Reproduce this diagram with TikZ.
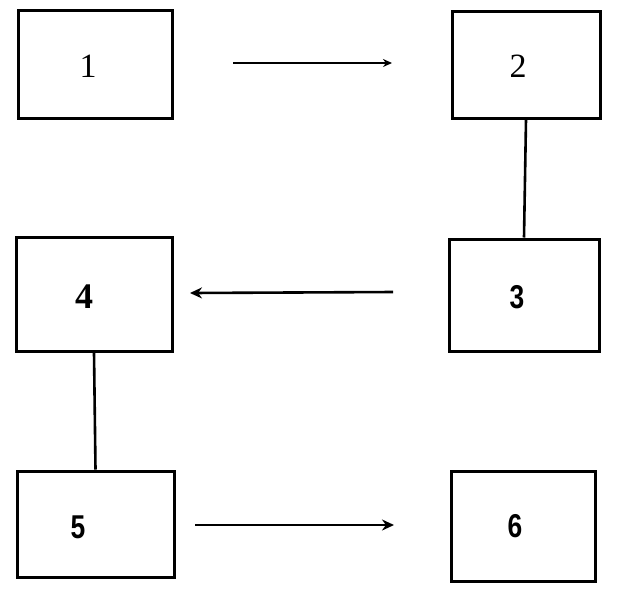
\documentclass[tikz,border=0pt]{standalone}
\usepackage{fontspec}
\setmainfont{Liberation Serif}
\newfontfamily\labsans{Liberation Sans}
\usetikzlibrary{arrows.meta}
\tikzset{
  blockbox/.style={draw=black, line width=3pt, fill=white, inner sep=0pt},
  serifnum/.style={font=\fontsize{34}{34}\selectfont, inner sep=0pt},
  boldnum/.style={font=\fontsize{36}{36}\selectfont\bfseries, inner sep=0pt},
  sansnum/.style={font=\fontsize{33}{33}\labsans\bfseries, inner sep=0pt, xscale=0.8},
  joinline/.style={draw=black, line width=2.6pt},
  flowarrow/.style={draw=black, line width=2.6pt, -{Stealth[length=12pt,width=11pt]}},
  thinarrow/.style={draw=black, line width=1.8pt, -{Stealth[length=9pt,width=8pt]}}
}
\begin{document}
\begin{tikzpicture}[x=1pt,y=-1pt]
\useasboundingbox[fill=white] (0,0) rectangle (623,590);
% boxes
\node[blockbox, minimum width=154pt, minimum height=108pt] (b1) at (95,64) {};
\node[blockbox, minimum width=148pt, minimum height=107pt] (b2) at (526,64.5) {};
\node[blockbox, minimum width=150pt, minimum height=112pt] (b3) at (524,295) {};
\node[blockbox, minimum width=156pt, minimum height=114pt] (b4) at (94,294) {};
\node[blockbox, minimum width=157pt, minimum height=106pt] (b5) at (95.5,524) {};
\node[blockbox, minimum width=144pt, minimum height=110pt] (b6) at (523,526) {};
% labels
\node[serifnum] (l1) at (88,66) {1};
\node[serifnum] (l2) at (518,66) {2};
\node[sansnum] (l3) at (517,297) {3};
\node[boldnum] (l4) at (84,297) {4};
\node[sansnum] (l5) at (78,527) {5};
\node[sansnum] (l6) at (515,526) {6};
% free arrow ends
\coordinate (a1s) at (233,63);
\coordinate (a1e) at (392,63);
\coordinate (a3s) at (393,292);
\coordinate (a3e) at (190,293);
\coordinate (a5s) at (195,525);
\coordinate (a5e) at (394,525);
% connectors
\draw[thinarrow] (a1s) -- (a1e);
\draw[joinline] (b2.south) -- (b3.north);
\draw[flowarrow] (a3s) -- (a3e);
\draw[joinline] (b4.south) -- (b5.north);
\draw[flowarrow] (a5s) -- (a5e);
\end{tikzpicture}
\end{document}
